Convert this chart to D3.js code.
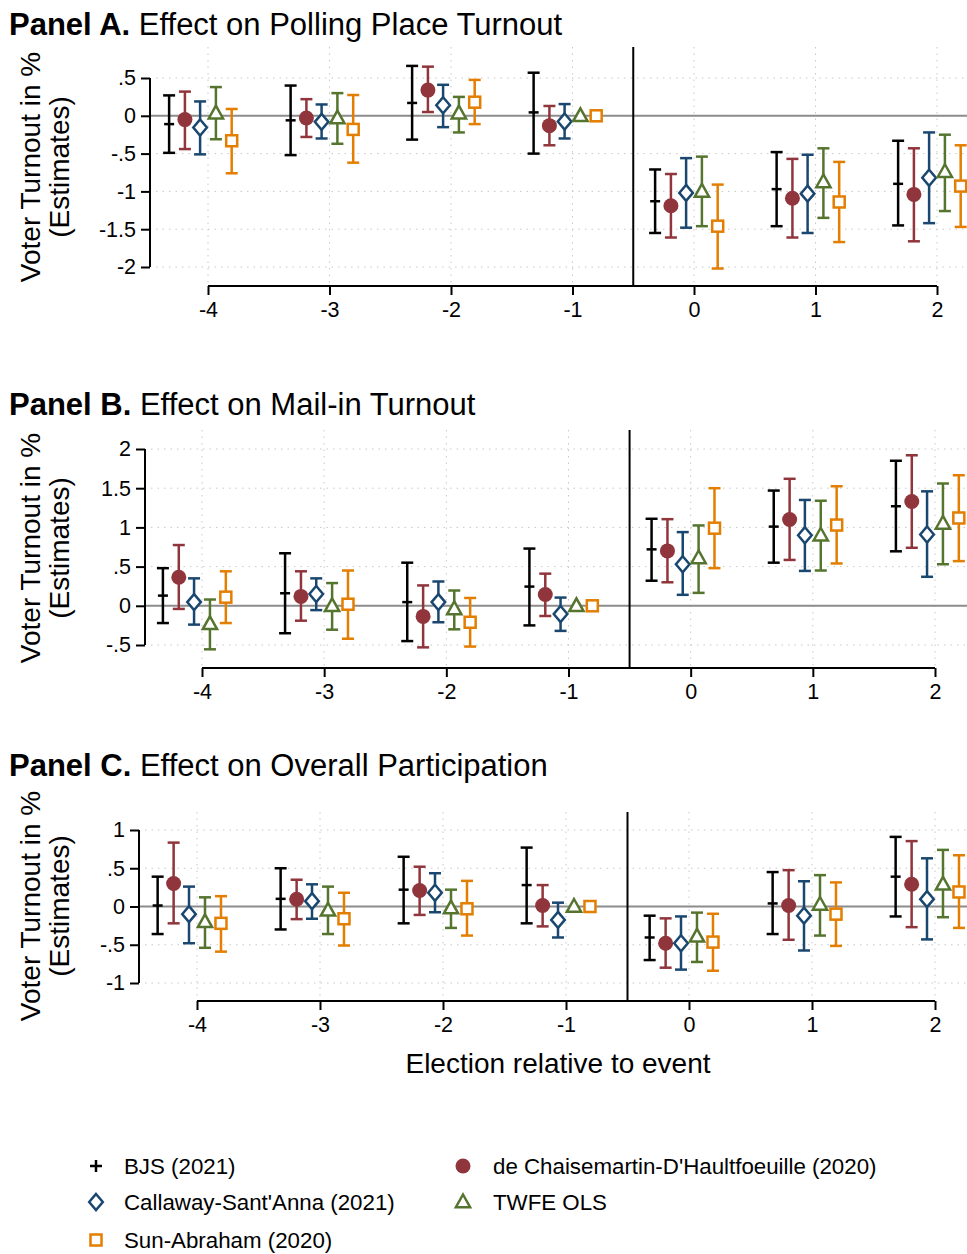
<!DOCTYPE html>
<html>
<head>
<meta charset="utf-8">
<script src="https://cdn.jsdelivr.net/npm/d3@7"></script>
<style>
  html, body { margin: 0; padding: 0; background: #fff; }
  svg { display: block; font-family: "Liberation Sans", Arial, sans-serif; }
</style>
</head>
<body>
<svg id="chart" width="967" height="1254"></svg>
<script>
// ---------------- DATA ----------------
const events = [-4, -3, -2, -1, 0, 1, 2];
const methods = ["BJS (2021)", "de Chaisemartin-D'Haultfoeuille (2020)", "Callaway-Sant'Anna (2021)", "TWFE OLS", "Sun-Abraham (2020)"];
const methodOffsets = [-0.32, -0.19, -0.065, 0.065, 0.195];
const methodColors = ["#000000", "#90353b", "#1a476f", "#55752f", "#e37e00"];

// each entry: [estimate, lower CI, upper CI] per event (-4..2); null CI = no bar
// Panel A: Polling place turnout
const A_BJS  = [[-0.11,-0.49,0.27],[-0.06,-0.52,0.40],[0.17,-0.315,0.66],[0.045,-0.50,0.57],[-1.13,-1.55,-0.71],[-0.97,-1.46,-0.48],[-0.90,-1.45,-0.33]];
const A_dCDH = [[-0.05,-0.44,0.32],[-0.03,-0.28,0.22],[0.34,0.05,0.65],[-0.13,-0.39,0.13],[-1.19,-1.61,-0.77],[-1.09,-1.61,-0.57],[-1.04,-1.66,-0.43]];
const A_CS   = [[-0.155,-0.51,0.19],[-0.08,-0.30,0.15],[0.14,-0.15,0.41],[-0.075,-0.30,0.155],[-1.02,-1.48,-0.56],[-1.03,-1.55,-0.515],[-0.82,-1.42,-0.22]];
const A_TWFE = [[0.035,-0.31,0.38],[-0.03,-0.37,0.30],[0.035,-0.22,0.25],[0,null,null],[-1.0,-1.46,-0.54],[-0.875,-1.35,-0.43],[-0.74,-1.26,-0.25]];
const A_SA   = [[-0.33,-0.76,0.09],[-0.18,-0.62,0.275],[0.18,-0.11,0.475],[0,null,null],[-1.46,-2.02,-0.91],[-1.14,-1.67,-0.61],[-0.93,-1.47,-0.39]];

// Panel B: Mail-in turnout
const B_BJS  = [[0.13,-0.22,0.48],[0.16,-0.35,0.67],[0.047,-0.45,0.55],[0.245,-0.25,0.73],[0.72,0.32,1.11],[1.01,0.55,1.47],[1.27,0.695,1.85]];
const B_dCDH = [[0.365,-0.04,0.775],[0.12,-0.19,0.44],[-0.135,-0.53,0.26],[0.145,-0.13,0.41],[0.70,0.30,1.105],[1.10,0.585,1.62],[1.33,0.74,1.92]];
const B_CS   = [[0.047,-0.24,0.35],[0.15,-0.055,0.35],[0.047,-0.21,0.31],[-0.105,-0.32,0.105],[0.53,0.14,0.94],[0.90,0.445,1.35],[0.91,0.37,1.46]];
const B_TWFE = [[-0.23,-0.555,0.08],[0.0,-0.305,0.29],[-0.04,-0.30,0.195],[0,null,null],[0.61,0.165,1.025],[0.90,0.45,1.34],[1.05,0.53,1.56]];
const B_SA   = [[0.11,-0.22,0.44],[0.02,-0.42,0.45],[-0.21,-0.52,0.10],[0,null,null],[0.99,0.48,1.50],[1.03,0.54,1.525],[1.12,0.57,1.665]];

// Panel C: Overall participation
const C_BJS  = [[0.013,-0.36,0.39],[0.10,-0.30,0.50],[0.22,-0.22,0.65],[0.28,-0.22,0.77],[-0.405,-0.70,-0.12],[0.04,-0.36,0.45],[0.39,-0.13,0.91]];
const C_dCDH = [[0.30,-0.22,0.835],[0.095,-0.165,0.35],[0.21,-0.11,0.52],[0.013,-0.26,0.28],[-0.48,-0.80,-0.155],[0.013,-0.435,0.475],[0.29,-0.27,0.855]];
const C_CS   = [[-0.10,-0.48,0.26],[0.07,-0.16,0.29],[0.18,-0.075,0.435],[-0.175,-0.405,0.05],[-0.48,-0.825,-0.13],[-0.12,-0.575,0.33],[0.096,-0.43,0.63]];
const C_TWFE = [[-0.20,-0.54,0.12],[-0.05,-0.36,0.26],[-0.02,-0.28,0.22],[0,null,null],[-0.39,-0.725,-0.08],[0.026,-0.38,0.41],[0.29,-0.14,0.74]];
const C_SA   = [[-0.22,-0.59,0.135],[-0.16,-0.51,0.18],[-0.03,-0.38,0.335],[0,null,null],[-0.465,-0.84,-0.095],[-0.10,-0.515,0.315],[0.19,-0.28,0.67]];

const panelTitlesBold = ["Panel A.", "Panel B.", "Panel C."];
const panelTitlesRest = ["Effect on Polling Place Turnout", "Effect on Mail-in Turnout", "Effect on Overall Participation"];
const A_yTicks = [0.5, 0, -0.5, -1, -1.5, -2];
const B_yTicks = [2, 1.5, 1, 0.5, 0, -0.5];
const C_yTicks = [1, 0.5, 0, -0.5, -1];
const yAxisTitle = ["Voter Turnout in %", "(Estimates)"];
const xAxisTitle = "Election relative to event";

// ---------------- LAYOUT ----------------
const svg = d3.select("#chart");
svg.append("rect").attr("width", 967).attr("height", 1254).attr("fill", "#fff");

const fmt = v => {
  if (v === 0) return "0";
  let s = String(v);
  return s.replace(/^0\./, ".").replace(/^-0\./, "-.");
};

const panels = [
  { data: [A_BJS, A_dCDH, A_CS, A_TWFE, A_SA], ticks: A_yTicks, yDom: [-2, 0.5], yPx: [267, 78],
    xPx: [208, 937], axisX: 150, axisY: 286, top: 47, titleY: 35, ytitleCY: 167 },
  { data: [B_BJS, B_dCDH, B_CS, B_TWFE, B_SA], ticks: B_yTicks, yDom: [-0.5, 2], yPx: [645, 449],
    xPx: [202, 935], axisX: 145, axisY: 668, top: 430, titleY: 415, ytitleCY: 548 },
  { data: [C_BJS, C_dCDH, C_CS, C_TWFE, C_SA], ticks: C_yTicks, yDom: [-1, 1], yPx: [983, 830],
    xPx: [197, 935], axisX: 139, axisY: 1001, top: 812, titleY: 776, ytitleCY: 906 }
];

function drawMarker(g, mi, cx, cy, legend) {
  const col = methodColors[mi];
  if (mi === 0) {
    const w = legend ? 6 : 5;
    g.append("line").attr("x1", cx - w).attr("x2", cx + w).attr("y1", cy).attr("y2", cy)
      .attr("stroke", col).attr("stroke-width", 2.5);
    if (legend) g.append("line").attr("x1", cx).attr("x2", cx).attr("y1", cy - w).attr("y2", cy + w)
      .attr("stroke", col).attr("stroke-width", 2.5);
  } else if (mi === 1) {
    g.append("circle").attr("cx", cx).attr("cy", cy).attr("r", 7.5).attr("fill", col);
  } else if (mi === 2) {
    const r = 8;
    g.append("path").attr("d", `M${cx},${cy - r}L${cx + r * 0.85},${cy}L${cx},${cy + r}L${cx - r * 0.85},${cy}Z`)
      .attr("fill", "#fff").attr("stroke", col).attr("stroke-width", 2.5);
  } else if (mi === 3) {
    const s = 7.5;
    g.append("path").attr("d", `M${cx},${cy - s}L${cx + s * 0.95},${cy + s * 0.7}L${cx - s * 0.95},${cy + s * 0.7}Z`)
      .attr("fill", "#fff").attr("stroke", col).attr("stroke-width", 2.5);
  } else {
    const h = 5.5;
    g.append("rect").attr("x", cx - h).attr("y", cy - h).attr("width", 2 * h).attr("height", 2 * h)
      .attr("fill", "#fff").attr("stroke", col).attr("stroke-width", 2.5);
  }
}

panels.forEach((p, pi) => {
  const x = d3.scaleLinear().domain([-4, 2]).range(p.xPx);
  const y = d3.scaleLinear().domain(p.yDom).range(p.yPx);
  const g = svg.append("g");

  // title
  const t = g.append("text").attr("x", 9).attr("y", p.titleY).attr("font-size", 31).attr("fill", "#000");
  t.append("tspan").attr("font-weight", "bold").text(panelTitlesBold[pi]);
  t.append("tspan").text(" " + panelTitlesRest[pi]);

  // y axis title
  const yt = g.append("text").attr("transform", `translate(0,${p.ytitleCY}) rotate(-90)`)
    .attr("text-anchor", "middle").attr("font-size", 28).attr("fill", "#000");
  yt.append("tspan").attr("x", 0).attr("y", 40).text(yAxisTitle[0]);
  yt.append("tspan").attr("x", 0).attr("y", 69).text(yAxisTitle[1]);

  // gridlines
  p.ticks.forEach(v => {
    g.append("line").attr("x1", p.axisX + 6).attr("x2", 967).attr("y1", y(v)).attr("y2", y(v))
      .attr("stroke", "#c8c8c8").attr("stroke-width", 1).attr("stroke-dasharray", "1.5,5");
  });
  events.forEach(e => {
    g.append("line").attr("x1", x(e)).attr("x2", x(e)).attr("y1", p.top).attr("y2", p.axisY)
      .attr("stroke", "#c8c8c8").attr("stroke-width", 1).attr("stroke-dasharray", "1.5,5");
  });

  // zero line
  g.append("line").attr("x1", p.axisX).attr("x2", 967).attr("y1", y(0)).attr("y2", y(0))
    .attr("stroke", "#8c8c8c").attr("stroke-width", 2);

  // event line at -0.5
  g.append("line").attr("x1", x(-0.5)).attr("x2", x(-0.5)).attr("y1", p.top).attr("y2", p.axisY)
    .attr("stroke", "#000").attr("stroke-width", 2);

  // y axis
  const yAxis = d3.axisLeft(y).tickValues(p.ticks).tickFormat(fmt).tickSize(9).tickPadding(5);
  const ya = g.append("g").attr("transform", `translate(${p.axisX},0)`).call(yAxis);
  ya.select(".domain").attr("d", `M0,${y(p.yDom[1])}V${y(p.yDom[0])}`).attr("stroke-width", 2);
  ya.selectAll(".tick line").attr("stroke-width", 2);
  ya.selectAll("text").attr("font-size", 21.5).attr("font-family", "Liberation Sans, Arial, sans-serif").attr("fill", "#000");

  // x axis
  const xAxis = d3.axisBottom(x).tickValues(events).tickFormat(d => String(d)).tickSize(9).tickPadding(7);
  const xa = g.append("g").attr("transform", `translate(0,${p.axisY})`).call(xAxis);
  xa.select(".domain").attr("d", `M${x(-4)},0H${x(2)}`).attr("stroke-width", 2);
  xa.selectAll(".tick line").attr("stroke-width", 2);
  xa.selectAll("text").attr("font-size", 21.5).attr("font-family", "Liberation Sans, Arial, sans-serif").attr("fill", "#000");

  // error bars + markers
  p.data.forEach((series, mi) => {
    const col = methodColors[mi];
    series.forEach((d, ei) => {
      const cx = x(events[ei] + methodOffsets[mi]);
      if (d[1] !== null) {
        g.append("line").attr("x1", cx).attr("x2", cx).attr("y1", y(d[1])).attr("y2", y(d[2]))
          .attr("stroke", col).attr("stroke-width", 2.5);
        [d[1], d[2]].forEach(v => {
          g.append("line").attr("x1", cx - 6).attr("x2", cx + 6).attr("y1", y(v)).attr("y2", y(v))
            .attr("stroke", col).attr("stroke-width", 2.5);
        });
      }
    });
    series.forEach((d, ei) => {
      drawMarker(g, mi, x(events[ei] + methodOffsets[mi]), y(d[0]), false);
    });
  });
});

// x axis title
svg.append("text").attr("x", 558).attr("y", 1073).attr("text-anchor", "middle")
  .attr("font-size", 28).attr("fill", "#000").text(xAxisTitle);

// legend
const legendPos = [[96, 1166], [463, 1166], [96, 1202], [463, 1202], [96, 1240]];
const legendTextX = [124, 493, 124, 493, 124];
const lg = svg.append("g");
methods.forEach((m, mi) => {
  const [lx, ly] = legendPos[mi];
  drawMarker(lg, mi, lx, ly, true);
  lg.append("text").attr("x", legendTextX[mi]).attr("y", ly + 8).attr("font-size", 22.3).attr("fill", "#000").text(m);
});
</script>
</body>
</html>
